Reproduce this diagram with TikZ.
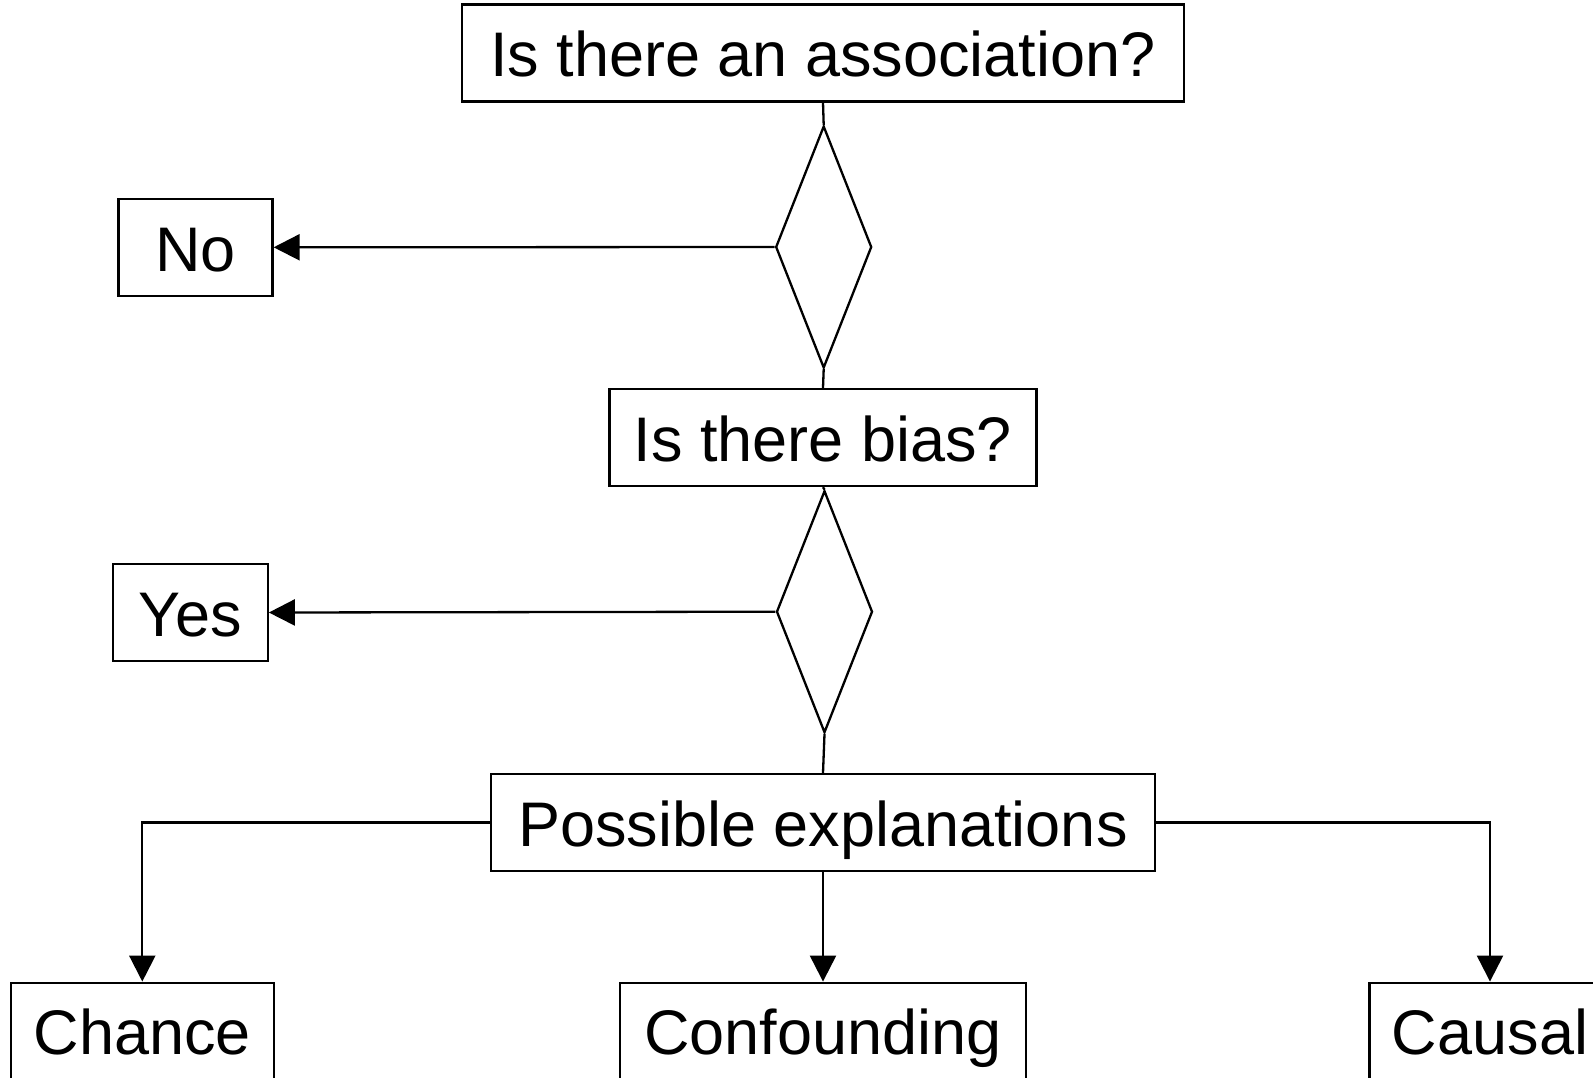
\documentclass[tikz,border=0pt]{standalone}
\usepackage{fontspec}
\setmainfont{Liberation Sans}
\usetikzlibrary{shapes.geometric,arrows.meta}
\begin{document}
\begin{tikzpicture}[x=1pt,y=-1pt,
  box/.style={draw, line width=2.3pt, rectangle, inner sep=0pt, minimum height=97pt,
    text height=60pt, text depth=12.6pt,
    font=\fontsize{63}{75}\selectfont},
  decision/.style={draw, line width=2.3pt, diamond, inner sep=0pt, minimum width=96pt, minimum height=242pt},
  link/.style={line width=2.3pt},
  arrowlink/.style={line width=2.3pt, -{Triangle[length=26pt,width=26pt]}}]
  % page frame
  \useasboundingbox (0,0) rectangle (1593,1077);
  % question boxes and decisions
  \node[box, minimum width=722pt] (assoc) at (823,53) {Is there an association?};
  \node[decision] (d1) at (823.7,247) {};
  \node[box, minimum width=154pt] (no) at (195.5,247.3) {No};
  \node[box, minimum width=427pt] (bias) at (823,437.5) {Is there bias?};
  \node[decision] (d2) at (824.5,611.7) {};
  \node[box, minimum width=155pt] (yes) at (190.2,612.5) {Yes};
  \node[box, minimum width=664pt] (expl) at (823,822.5) {Possible explanations};
  % outcome boxes
  \node[box, minimum width=263pt] (chance) at (142.3,1031.2) {Chance};
  \node[box, minimum width=406pt] (conf) at (823,1031.2) {Confounding};
  \node[box, minimum width=241pt] (causal) at (1490,1031.2) {Causal};
  % connectors
  \draw[link] (assoc.south) -- (d1.north);
  \draw[link] (d1.south) -- (bias.north);
  \draw[link] (bias.south) -- (d2.north);
  \draw[link] (d2.south) -- (expl.north);
  \draw[arrowlink] (d1.west) -- (no.east);
  \draw[arrowlink] (d2.west) -- (yes.east);
  \draw[arrowlink] (expl.west) -| (chance.north);
  \draw[arrowlink] (expl.south) -- (conf.north);
  \draw[arrowlink] (expl.east) -| (causal.north);
\end{tikzpicture}
\end{document}
